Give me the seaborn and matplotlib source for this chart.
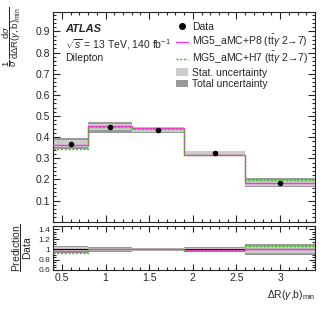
import numpy as np
import pandas as pd
import matplotlib
matplotlib.use("Agg")
import matplotlib.pyplot as plt
from matplotlib.ticker import MultipleLocator, FixedLocator, FuncFormatter
from matplotlib.patches import Patch
from matplotlib.lines import Line2D
import seaborn as sns

# bin edges in dR(gamma,b)_min and normalised cross sections
edges = [0.4, 0.8, 1.3, 1.9, 2.6, 3.4]
data = [0.369, 0.447, 0.436, 0.323, 0.185]
stat_unc = [0.017, 0.015, 0.010, 0.010, 0.014]
tot_unc = [0.026, 0.025, 0.014, 0.013, 0.020]
pred_p8 = [0.361, 0.452, 0.444, 0.317, 0.185]
pred_h7 = [0.345, 0.447, 0.440, 0.316, 0.199]

sns.set_style("ticks")
plt.rcParams['font.family'] = ['Liberation Sans', 'DejaVu Sans']
plt.rcParams['mathtext.fontset'] = 'custom'
plt.rcParams['mathtext.rm'] = 'Liberation Sans'
plt.rcParams['mathtext.it'] = 'Liberation Sans:italic'
plt.rcParams['mathtext.bf'] = 'Liberation Sans:bold'
fs = 7.5

edges = np.array(edges)
data = np.array(data)
centers = 0.5 * (edges[:-1] + edges[1:])
widths = np.diff(edges)
df = pd.DataFrame({"x": centers, "y": data})

col_stat = "#cccccc"
col_tot = "#999999"
col_p8 = "#ff33dd"
col_h7 = "#22cc00"

fig = plt.figure(figsize=(3.32, 3.19), dpi=100)
ax1 = fig.add_axes([0.160, 0.305, 0.789, 0.656])
ax2 = fig.add_axes([0.160, 0.154, 0.789, 0.136])

def steps(vals):
    return pd.DataFrame({"x": edges, "y": np.append(vals, vals[-1])})

# main panel
ax1.bar(edges[:-1], 2 * np.array(tot_unc), bottom=data - np.array(tot_unc), width=widths,
        align="edge", color=col_tot, linewidth=0, zorder=1)
ax1.bar(edges[:-1], 2 * np.array(stat_unc), bottom=data - np.array(stat_unc), width=widths,
        align="edge", color=col_stat, linewidth=0, zorder=2)
sns.lineplot(data=steps(pred_p8), x="x", y="y", ax=ax1, drawstyle="steps-post",
             color=col_p8, lw=1.0, zorder=3)
sns.lineplot(data=steps(pred_h7), x="x", y="y", ax=ax1, drawstyle="steps-post",
             color=col_h7, lw=1.0, ls=(0, (1.5, 1.2)), zorder=4)
sns.scatterplot(data=df, x="x", y="y", ax=ax1, color="black", s=16, edgecolor="black",
                linewidth=0, zorder=5)

ax1.set_xlim(0.4, 3.4)
ax1.set_ylim(0.0, 0.99)
ax1.yaxis.set_major_locator(FixedLocator([0.1, 0.2, 0.3, 0.4, 0.5, 0.6, 0.7, 0.8, 0.9]))
ax1.yaxis.set_minor_locator(MultipleLocator(0.02))
ax1.xaxis.set_major_locator(MultipleLocator(0.5))
ax1.xaxis.set_minor_locator(MultipleLocator(0.1))
ax1.set_xticklabels([])
ax1.set_xlabel("")
ax1.set_ylabel(r"$\dfrac{1}{\sigma}\,\dfrac{\mathrm{d}\sigma}{\mathrm{d}\Delta \mathrm{R}(\gamma,\mathrm{b})_{\mathrm{min}}}$",
               fontsize=6.8, loc="top")
ax1.yaxis.set_label_coords(-0.115, 1.03)

ax1.text(0.045, 0.92, "ATLAS", transform=ax1.transAxes, fontsize=fs + 0.5,
         fontweight="bold", fontstyle="italic", va="center")
ax1.text(0.045, 0.845, r"$\sqrt{s}$ = 13 TeV, 140 fb$^{-1}$", transform=ax1.transAxes,
         fontsize=fs, va="center")
ax1.text(0.045, 0.78, "Dilepton", transform=ax1.transAxes, fontsize=fs, va="center")

handles = [
    Line2D([], [], marker="o", color="black", ls="none", markersize=4),
    Line2D([], [], color=col_p8, lw=1.0),
    Line2D([], [], color=col_h7, lw=1.0, ls=(0, (1.5, 1.2))),
    Patch(facecolor=col_stat, edgecolor="none"),
    Patch(facecolor=col_tot, edgecolor="none"),
]
labels = ["Data",
          "MG5_aMC+P8 (" + r"$\mathrm{t\bar{t}}\gamma$" + " 2\u21927)",
          "MG5_aMC+H7 (" + r"$\mathrm{t\bar{t}}\gamma$" + " 2\u21927)",
          "Stat. uncertainty", "Total uncertainty"]
ax1.legend(handles, labels, loc="upper left", bbox_to_anchor=(0.46, 0.965), frameon=False,
           fontsize=fs, handlelength=1.2, handletextpad=0.35, labelspacing=0.12,
           borderpad=0.2, borderaxespad=0.0)

# ratio panel
rel_stat = np.array(stat_unc) / data
rel_tot = np.array(tot_unc) / data
ax2.bar(edges[:-1], 2 * rel_tot, bottom=1 - rel_tot, width=widths, align="edge",
        color=col_tot, linewidth=0, zorder=1)
ax2.bar(edges[:-1], 2 * rel_stat, bottom=1 - rel_stat, width=widths, align="edge",
        color=col_stat, linewidth=0, zorder=2)
ax2.axhline(1.0, color="black", lw=0.8, zorder=3)
sns.lineplot(data=steps(np.array(pred_p8) / data), x="x", y="y", ax=ax2,
             drawstyle="steps-post", color=col_p8, lw=1.0, zorder=4)
sns.lineplot(data=steps(np.array(pred_h7) / data), x="x", y="y", ax=ax2,
             drawstyle="steps-post", color=col_h7, lw=1.0, ls=(0, (1.5, 1.2)), zorder=5)

ax2.set_xlim(0.4, 3.4)
ax2.set_ylim(0.6, 1.45)
ax2.yaxis.set_major_locator(FixedLocator([0.6, 0.8, 1.0, 1.2, 1.4]))
ax2.yaxis.set_minor_locator(MultipleLocator(0.05))
ax2.yaxis.set_major_formatter(FuncFormatter(lambda v, p: ("%.1f" % v).rstrip("0").rstrip(".")))
ax2.xaxis.set_major_locator(MultipleLocator(0.5))
ax2.xaxis.set_minor_locator(MultipleLocator(0.1))
ax2.xaxis.set_major_formatter(FuncFormatter(lambda v, p: ("%.1f" % v).rstrip("0").rstrip(".")))
ax2.set_ylabel(r"$\dfrac{\mathrm{Prediction}}{\mathrm{Data}}$", fontsize=fs, labelpad=3)
ax2.set_xlabel(r"$\Delta$R($\gamma$,b)$_{\mathrm{min}}$", fontsize=fs, loc="right", labelpad=4)

for ax in (ax1, ax2):
    ax.tick_params(which="both", direction="in", top=True, right=True, width=0.8,
                   labelsize=fs, pad=2)
    ax.tick_params(which="major", length=5)
    ax.tick_params(which="minor", length=2.5)
    for sp in ax.spines.values():
        sp.set_linewidth(0.8)
ax2.tick_params(axis="y", labelsize=fs - 1.5)
ax2.tick_params(which="major", length=4)
ax2.tick_params(which="minor", length=2)

fig.savefig("out.png", dpi=100)
